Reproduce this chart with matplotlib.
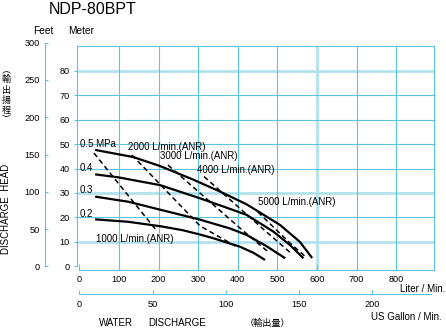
import matplotlib
matplotlib.use('Agg')
import matplotlib.pyplot as plt

plt.rcParams['font.family'] = ['Liberation Sans', 'Noto Sans CJK JP', 'DejaVu Sans']

# ---------------- data ----------------
# pump curves: discharge (L/min) vs head (m) at each air pressure
p05_L = [40, 136, 204, 287, 355, 423, 507, 557, 588]
p05_m = [47.6, 44.7, 41.0, 35.5, 30.6, 25.3, 16.9, 10.0, 3.4]
p04_L = [40, 98, 204, 305, 389, 423, 490, 532, 566]
p04_m = [37.6, 36.4, 33.2, 27.8, 23.0, 21.0, 14.2, 8.7, 3.3]
p03_L = [40, 124, 208, 300, 380, 423, 473, 520]
p03_m = [28.5, 26.4, 23.0, 19.3, 15.5, 12.8, 8.2, 3.3]
p02_L = [40, 124, 208, 260, 300, 338, 406, 440, 469]
p02_m = [19.2, 18.2, 16.3, 14.8, 13.2, 11.5, 8.0, 5.5, 2.6]
pressure_labels = ['0.5 MPa', '0.4', '0.3', '0.2']

# air consumption lines (L/min, m)
a1000_L = [37, 196]
a1000_m = [46.3, 14.4]
a2000_L = [133, 305, 394]
a2000_m = [45.5, 16.5, 8.3]
a3000_L = [224, 411, 477]
a3000_m = [41.4, 14.9, 5.9]
a4000_L = [315, 461, 537]
a4000_m = [36.7, 15.7, 5.0]
a5000_L = [451, 532, 575]
a5000_m = [22.2, 9.5, 3.4]
air_labels = ['1000 L/min.(ANR)', '2000 L/min.(ANR)', '3000 L/min.(ANR)',
              '4000 L/min.(ANR)', '5000 L/min.(ANR)']

meter_ticks = [0, 10, 20, 30, 40, 50, 60, 70, 80]
feet_ticks = [0, 50, 100, 150, 200, 250, 300]
liter_ticks = [0, 100, 200, 300, 400, 500, 600, 700, 800]
gallon_ticks = [0, 50, 100, 150, 200]
thick_m = [10, 30, 80]
thick_L = [600]

# ---------------- layout ----------------
W, H, DPI = 446, 328, 100
CY = '#5ac5de'
CYL = '#b2e1ec'

fig = plt.figure(figsize=(W / DPI, H / DPI), dpi=DPI)
fig.patch.set_facecolor('white')


def fx(px):
    return px / W


def fy(py):
    return 1 - py / H


def t(px, py, s, ha='left', va='center', size=7, **kw):
    fig.text(fx(px), fy(py), s, ha=ha, va=va, fontsize=size, color='black', **kw)


# main axes: x 0 L at px 79.3, 0.396 px/L ; y 0 m at py 266.3, 2.445 px/m
x0, sx = 79.3, 0.396
y0, sy = 266.3, 2.445
left_px, right_px = 77, 434.3
top_m = 90
bot_px = 270
ax = fig.add_axes([fx(left_px), fy(bot_px), (right_px - left_px) / W,
                   (bot_px - (y0 - top_m * sy)) / H])
ax.set_xlim((left_px - x0) / sx, (right_px - x0) / sx)
ax.set_ylim((y0 - bot_px) / sy, top_m)
ax.patch.set_alpha(0)

for s in ax.spines.values():
    s.set_color(CY)
    s.set_linewidth(0.8)
ax.spines['left'].set_bounds(0, top_m)
ax.spines['bottom'].set_bounds(0, (right_px - x0) / sx)

ax.set_yticks(meter_ticks)
ax.set_yticklabels([str(v) for v in meter_ticks])
ax.set_xticks(liter_ticks)
ax.set_xticklabels([str(v) for v in liter_ticks])
ax.tick_params(axis='y', direction='out', length=2.5, width=0.8, color=CY,
               labelsize=6.6, pad=2.5)
ax.tick_params(axis='x', direction='in', length=4, width=0.8, color=CY,
               labelsize=6.6, pad=3.6)

# grid
for v in meter_ticks[1:]:
    if v in thick_m:
        ax.axhline(v, color=CYL, lw=2.0, zorder=0.5)
    else:
        ax.axhline(v, color=CY, lw=0.8, zorder=0.8)
for v in liter_ticks[1:]:
    if v in thick_L:
        ax.axvline(v, color=CYL, lw=2.0, zorder=0.5)
    else:
        ax.axvline(v, color=CY, lw=0.8, zorder=0.8)

# curves
for Ls, ms in [(p05_L, p05_m), (p04_L, p04_m), (p03_L, p03_m), (p02_L, p02_m)]:
    ax.plot(Ls, ms, color='black', lw=1.6, solid_capstyle='butt',
            solid_joinstyle='round', zorder=3)
for Ls, ms in [(a1000_L, a1000_m), (a2000_L, a2000_m), (a3000_L, a3000_m),
               (a4000_L, a4000_m), (a5000_L, a5000_m)]:
    ax.plot(Ls, ms, color='black', lw=1.1, dashes=(3.3, 2.2), zorder=2.5)

# feet axis
ft_top_py = y0 - 300 * 0.3048 * sy
axf = fig.add_axes([fx(45), fy(y0), 8 / W, (y0 - ft_top_py) / H])
axf.set_ylim(0, 300)
axf.patch.set_alpha(0)
for k in ['top', 'right', 'bottom']:
    axf.spines[k].set_visible(False)
axf.spines['left'].set_color(CY)
axf.spines['left'].set_linewidth(0.8)
axf.set_xticks([])
axf.set_yticks(feet_ticks)
axf.set_yticklabels([str(v) for v in feet_ticks])
axf.tick_params(axis='y', direction='in', length=2.5, width=0.8, color=CY,
                labelsize=6.6, pad=3.6)

# US gallon axis
g_right = 240
axg = fig.add_axes([fx(x0), fy(294), g_right * 1.465 / W, 8 / H])
axg.set_xlim(0, g_right)
axg.patch.set_alpha(0)
for k in ['top', 'right', 'left']:
    axg.spines[k].set_visible(False)
axg.spines['bottom'].set_color(CY)
axg.spines['bottom'].set_linewidth(0.8)
axg.set_yticks([])
axg.set_xticks(gallon_ticks)
axg.set_xticklabels([str(v) for v in gallon_ticks])
axg.tick_params(axis='x', direction='in', length=3, width=0.8, color=CY,
                labelsize=6.6, pad=4.6)

# texts
t(93, 9, 'NDP-80BPT', ha='center', size=11.5)
t(43, 31, 'Feet', ha='center', size=7.3)
t(81, 31, 'Meter', ha='center', size=7.3)
t(6.5, 209, 'DISCHARGE  HEAD', ha='center', rotation=90, size=7)
for ch, py in zip(['︵', '輸', '出', '揚', '程', '︶'], [70.5, 79.5, 90.3, 101, 111, 120]):
    t(6.5, py, ch, ha='center', size=6.5)

for s, py in zip(pressure_labels, [144, 168.3, 190, 214.3]):
    t(80, py, s, size=7)
for s, (px, py) in zip(air_labels, [(95.7, 239), (128.3, 146.7), (160, 155.7),
                                    (196.7, 170), (257.7, 202.3)]):
    t(px, py, s, size=7)

t(445, 289.3, 'Liter / Min.', ha='right', size=7)
t(442, 317.3, 'US Gallon / Min.', ha='right', size=7)
t(99.3, 323.3, 'WATER', size=7)
t(148.3, 323.3, 'DISCHARGE', size=7)
t(245, 323.3, '（輸出量）', size=6.6)

fig.savefig('out.png', dpi=DPI, facecolor='white')
